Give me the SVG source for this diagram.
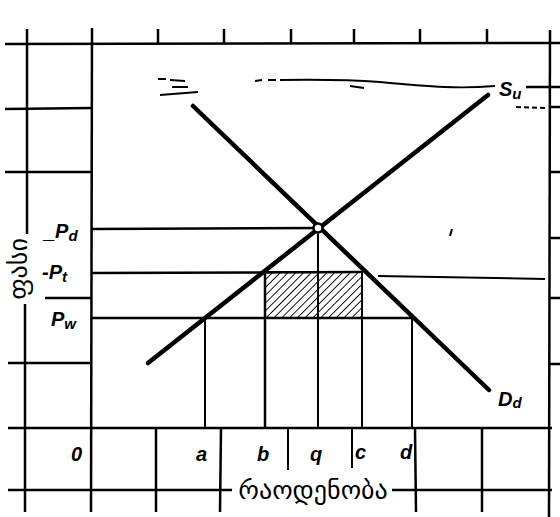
<svg xmlns="http://www.w3.org/2000/svg" width="560" height="517" viewBox="0 0 560 517">
<style>
.g{stroke:#000;stroke-width:2.5;fill:none;stroke-linecap:butt}
.t{stroke:#000;stroke-width:2;fill:none}
.c{stroke:#000;stroke-width:4.5;fill:none;stroke-linecap:round}
.n{stroke:#000;stroke-width:1.8;fill:none}
.lbl{font-family:"Liberation Sans",Arial,sans-serif;font-style:italic;font-weight:bold;font-size:20px;fill:#000}
.sub{font-size:15px}
.geo{font-family:"DejaVu Sans","Noto Sans",sans-serif;font-size:26px;fill:#000}
</style>
<defs>
<pattern id="hatch" patternUnits="userSpaceOnUse" width="5.5" height="5.5" patternTransform="rotate(45)">
<line x1="0" y1="0" x2="0" y2="5.5" stroke="#000" stroke-width="1.8"/>
</pattern>
</defs>
<rect width="560" height="517" fill="#fff"/>
<g id="grid">
<line class="g" x1="5" y1="44" x2="560" y2="43"/>
<line class="g" x1="5" y1="109" x2="92" y2="108"/>
<line class="g" x1="5" y1="172" x2="92" y2="172"/>
<line class="g" x1="45" y1="298" x2="92" y2="298"/>
<line class="g" x1="8" y1="363" x2="92" y2="363"/>
<line class="g" x1="8" y1="428" x2="552" y2="428"/>
<line class="g" x1="8" y1="490" x2="232" y2="490"/>
<line class="g" x1="392" y1="490" x2="552" y2="490"/>
<line class="g" x1="550" y1="107" x2="560" y2="107"/>
<line class="g" x1="550" y1="172" x2="560" y2="172"/>
<line class="g" x1="550" y1="238" x2="560" y2="238"/>
<line class="g" x1="550" y1="298" x2="560" y2="298"/>
<line class="g" x1="550" y1="364" x2="560" y2="364"/>
<line class="g" x1="27" y1="29" x2="27" y2="234"/>
<line class="g" x1="25" y1="304" x2="25" y2="512"/>
<line class="g" x1="92" y1="28" x2="91" y2="512"/>
<line class="g" x1="550" y1="30" x2="549" y2="517"/>
<line class="g" x1="158" y1="29" x2="158" y2="43"/>
<line class="g" x1="224" y1="29" x2="224" y2="43"/>
<line class="g" x1="291" y1="29" x2="291" y2="43"/>
<line class="g" x1="354" y1="29" x2="354" y2="43"/>
<line class="g" x1="420" y1="29" x2="420" y2="43"/>
<line class="g" x1="487" y1="29" x2="487" y2="43"/>
<line class="g" x1="156" y1="428" x2="156" y2="512"/>
<line class="g" x1="221" y1="428" x2="220" y2="512"/>
<line class="t" x1="288" y1="428" x2="288" y2="470"/>
<line class="t" x1="352" y1="428" x2="352" y2="468"/>
<line class="g" x1="415" y1="428" x2="416" y2="512"/>
<line class="g" x1="482" y1="428" x2="482" y2="512"/>
</g>
<g id="hatched-area">
<rect x="265" y="272" width="97" height="46" fill="url(#hatch)" stroke="#000" stroke-width="2"/>
</g>
<g id="connectors">
<line class="g" x1="92" y1="229" x2="318" y2="228"/>
<line class="g" x1="92" y1="273" x2="362" y2="272"/>
<line class="t" x1="378" y1="276" x2="545" y2="279"/>
<line class="g" x1="92" y1="318" x2="412" y2="318"/>
<line class="t" x1="205" y1="318" x2="205" y2="428"/>
<line class="g" x1="265" y1="272" x2="265" y2="428"/>
<line class="t" x1="318" y1="228" x2="318" y2="428"/>
<line class="t" x1="362" y1="272" x2="362" y2="428"/>
<line class="t" x1="412" y1="318" x2="412" y2="428"/>
<path class="n" d="M158 79 L166 79 M170 80 L185 81 M160 95 L198 92 M172 87 L188 87" stroke-width="1.3"/>
<path class="n" d="M255 81 L262 80 M268 80 L276 80 M280 80 Q340 79 380 82 Q420 86 445 87 Q470 88 495 86"/>
<path class="n" d="M350 86 L364 88"/>
<path class="g" d="M526 87 L560 87"/>
<path class="t" d="M516 107 L545 108" stroke-dasharray="5 3"/>
<line class="t" x1="452" y1="229" x2="450" y2="236"/>
</g>
<g id="supply-curve">
<line class="c" x1="148" y1="363" x2="488" y2="95"/>
</g>
<g id="demand-curve">
<line class="c" x1="193" y1="106" x2="489" y2="390"/>
</g>
<g id="equilibrium">
<circle cx="318" cy="228" r="4.5" fill="#fff" stroke="#000" stroke-width="2.5"/>
</g>
<g id="labels">
<text class="lbl" x="499" y="96">S<tspan class="sub" dy="3">u</tspan></text>
<text class="lbl" x="498" y="406">D<tspan class="sub" dy="2">d</tspan></text>
<text class="lbl" x="44" y="238">_P<tspan class="sub" dy="3">d</tspan></text>
<text class="lbl" x="42" y="279">-P<tspan class="sub" dy="3">t</tspan></text>
<text class="lbl" x="51" y="326">P<tspan class="sub" dy="3">w</tspan></text>
<text class="lbl" x="71" y="461" font-style="normal">0</text>
<text class="lbl" x="196" y="461">a</text>
<text class="lbl" x="257" y="461">b</text>
<text class="lbl" x="310" y="461">q</text>
<text class="lbl" x="355" y="459">c</text>
<text class="lbl" x="400" y="459">d</text>
<text class="geo" x="313" y="499" text-anchor="middle">რაოდენობა</text>
<text class="geo" x="19" y="269" dy="8" text-anchor="middle" transform="rotate(-90 19 269)">ფასი</text>
</g>
</svg>
